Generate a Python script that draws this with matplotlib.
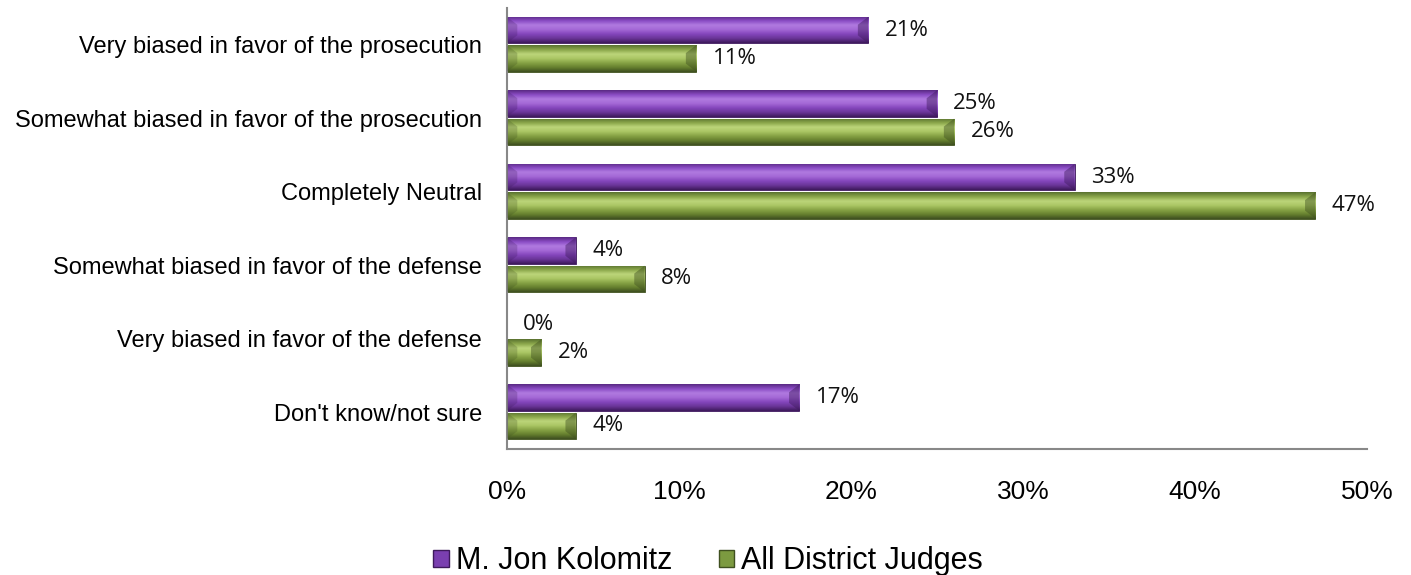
import numpy as np
import matplotlib
matplotlib.use("Agg")
import matplotlib.pyplot as plt
from matplotlib.colors import LinearSegmentedColormap
from matplotlib.patches import Patch

categories = ["Very biased in favor of the prosecution",
              "Somewhat biased in favor of the prosecution",
              "Completely Neutral",
              "Somewhat biased in favor of the defense",
              "Very biased in favor of the defense",
              "Don't know/not sure"]
kolomitz = [21, 25, 33, 4, 0, 17]
all_judges = [11, 26, 47, 8, 2, 4]
series_names = ["M. Jon Kolomitz", "All District Judges"]

purple_cmap = LinearSegmentedColormap.from_list(
    "p", ["#5a2a84", "#8a4cc4", "#b07ae0", "#a468d6", "#8446bc", "#6a3598", "#3e1a5c"])
green_cmap = LinearSegmentedColormap.from_list(
    "g", ["#5a7230", "#8aa64a", "#bcd57a", "#aac664", "#86a244", "#66802f", "#3f5020"])

fig = plt.figure(figsize=(14.11, 5.75), dpi=100)
ax = fig.add_axes([0.3593, 0.2191, 0.6095, 0.767])

y = np.arange(len(categories))
h = 0.36
grad = np.linspace(0, 1, 64).reshape(-1, 1)


def shade(bars, cmap):
    for b in bars:
        w = b.get_width()
        if w <= 0:
            continue
        x0, y0 = b.get_x(), b.get_y()
        hh = b.get_height()
        im = ax.imshow(grad, cmap=cmap, aspect="auto",
                       extent=(x0, x0 + w, y0 + hh, y0), zorder=2,
                       interpolation="bilinear")
        im.set_clip_path(b)
        # bevel triangles at both ends of the bar
        e = min(0.6, w / 3)
        ax.fill([x0 + w - e, x0 + w, x0 + w, x0 + w - e],
                [y0 + hh * 0.3, y0, y0 + hh, y0 + hh * 0.7],
                color=cmap(1.0), alpha=0.45, zorder=3, lw=0)
        ax.fill([x0, x0 + e, x0 + e, x0],
                [y0, y0 + hh * 0.3, y0 + hh * 0.7, y0 + hh],
                color=cmap(1.0), alpha=0.25, zorder=3, lw=0)


b1 = ax.barh(y - 0.2, kolomitz, height=h, color="#7030a0",
             edgecolor="#3e1a5c", linewidth=0.6, zorder=2)
b2 = ax.barh(y + 0.185, all_judges, height=h, color="#77933c",
             edgecolor="#3f5020", linewidth=0.6, zorder=2)
shade(b1, purple_cmap)
shade(b2, green_cmap)

for bars, vals in ((b1, kolomitz), (b2, all_judges)):
    for b, v in zip(bars, vals):
        ax.text(v + 0.95, b.get_y() + b.get_height() / 2, f"{v}%",
                va="center", ha="left", fontsize=16, family="Open Sans",
                color="#111111")

ax.set_xlim(0, 50)
ax.set_ylim(len(categories) - 0.5, -0.5)
ax.set_xticks(np.arange(0, 51, 10))
ax.set_xticklabels([f"{t}%" for t in range(0, 51, 10)],
                   fontsize=19, family="Liberation Sans")
ax.set_yticks(y)
ax.set_yticklabels(categories, fontsize=17, family="Liberation Sans")
ax.tick_params(axis="x", length=0, pad=22)
ax.tick_params(axis="y", length=0, pad=18)
for s in ("top", "right"):
    ax.spines[s].set_visible(False)
for s in ("left", "bottom"):
    ax.spines[s].set_color("#888888")
    ax.spines[s].set_linewidth(1.5)

handles = [Patch(facecolor="#7a3fb0", edgecolor="#3e1a5c"),
           Patch(facecolor="#7c9a40", edgecolor="#3f5020")]
fig.legend(handles, series_names, loc="center", bbox_to_anchor=(0.502, 0.024),
           ncol=2, frameon=False, prop={"family": "Liberation Sans", "size": 22},
           handlelength=0.5, handleheight=0.5, handletextpad=0.25,
           columnspacing=1.5, borderpad=0)

fig.savefig("out.png", dpi=100)
